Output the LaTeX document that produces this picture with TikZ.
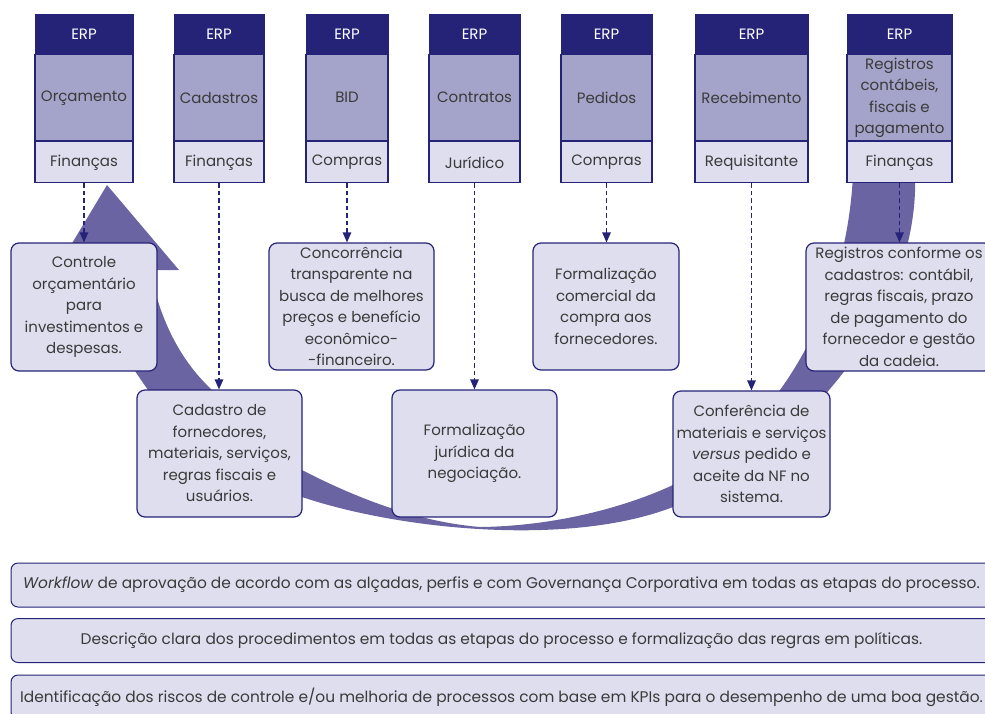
\documentclass[tikz,border=0pt]{standalone}
\usepackage{fontspec}
\setmainfont{Poppins}
\usepackage{xcolor}
\usepackage{tikz}
\usetikzlibrary{arrows.meta, positioning}
\definecolor{erpnavy}{RGB}{37, 35, 120}
\definecolor{modlilac}{RGB}{164, 163, 201}
\definecolor{palelilac}{RGB}{222, 222, 238}
\definecolor{cyclepurple}{RGB}{106, 100, 162}
\definecolor{textgray}{RGB}{58, 58, 58}
\tikzstyle{erphead} = [
    draw=erpnavy,
    fill=erpnavy,
    text=white,
    minimum height=40,
    inner sep=0pt
]
\tikzstyle{modbox} = [
    draw=erpnavy,
    line width=1.1,
    fill=modlilac,
    text=textgray,
    align=center,
    minimum height=86,
    inner sep=0pt
]
\tikzstyle{areabox} = [
    draw=erpnavy,
    line width=1.1,
    fill=palelilac,
    text=textgray,
    minimum height=41,
    inner sep=0pt
]
\tikzstyle{descbox} = [
    draw=erpnavy,
    line width=1.2,
    fill=palelilac,
    text=textgray,
    rounded corners=8,
    align=center,
    inner sep=1pt
]
\tikzstyle{barbox} = [
    draw=erpnavy,
    line width=1,
    fill=palelilac,
    text=textgray,
    rounded corners=7,
    minimum height=44,
    minimum width=981,
    font=\fontsize{15.4}{21.5}\selectfont
]
\tikzstyle{flow} = [
    line width=1.3,
    dash pattern=on 4.5pt off 3pt,
    -{Triangle[length=10pt, width=8.5pt]},
    color=erpnavy
]

\begin{document}
\begin{tikzpicture}[x=1pt, y=-1pt, font=\fontsize{15}{21.5}\selectfont]
        \useasboundingbox (0,0) rectangle (985,713);
        \clip (0,0) rectangle (985,713);

        % Cycle arrow behind the boxes
        \fill[cyclepurple] (150,270)
            .. controls (160,320) and (180,360) .. (212,390)
            .. controls (250,430) and (275,455) .. (302,470)
            .. controls (360,500) and (420,522) .. (480,527)
            .. controls (560,526) and (630,505) .. (673,485)
            .. controls (760,440) and (845,330) .. (853,175)
            -- (915,175)
            .. controls (920,320) and (790,458) .. (673,507)
            .. controls (570,547) and (400,530) .. (302,497)
            .. controls (240,470) and (180,435) .. (148,390)
            .. controls (125,357) and (100,320) .. (85,270)
            -- (56,270) -- (107,185) -- (179,270) -- cycle;

        % ERP modules
        \foreach \i/\cx/\w/\modname/\area in {
            1/84/98/Orçamento/Finanças,
            2/219/90/Cadastros/Finanças,
            3/347/82/BID/Compras,
            4/474.5/91/Contratos/Jurídico,
            5/606.5/91/Pedidos/Compras,
            6/751.5/113/Recebimento/Requisitante,
            7/899.5/105/{Registros\\contábeis,\\fiscais e\\pagamento}/Finanças} {
            \node[erphead, minimum width=\w] (erp\i) at (\cx, 34) {ERP};
            \node[modbox, minimum width=\w, below=0pt of erp\i] (mod\i) {\modname};
            \node[areabox, minimum width=\w, below=0pt of mod\i] (area\i) {\area};
        }

        % Process steps
        \node[descbox, minimum width=146, minimum height=128] (desc1) at (84,307)
            {Controle\\orçamentário\\para\\investimentos e\\despesas.};
        \node[descbox, minimum width=165, minimum height=127] (desc2) at (219.5,453.5)
            {Cadastro de\\fornecdores,\\materiais, serviços,\\regras fiscais e\\usuários.};
        \node[descbox, minimum width=165, minimum height=127] (desc3) at (351.5,306.5)
            {Concorrência\\transparente na\\busca de melhores\\preços e benefício\\econômico-\\-financeiro.};
        \node[descbox, minimum width=165, minimum height=127] (desc4) at (474.5,453.5)
            {Formalização\\jurídica da\\negociação.};
        \node[descbox, minimum width=146, minimum height=127] (desc5) at (606,306.5)
            {Formalização\\comercial da\\compra aos\\fornecedores.};
        \node[descbox, minimum width=157, minimum height=126] (desc6) at (751.5,454)
            {Conferência de\\materiais e serviços\\\textit{versus} pedido e\\aceite da NF no\\sistema.};
        \node[descbox, minimum width=186, minimum height=128] (desc7) at (899,307)
            {Registros conforme os\\cadastros: contábil,\\regras fiscais, prazo\\de pagamento do\\fornecedor e gestão\\da cadeia.};

        % Links from modules to steps
        \foreach \i in {1,...,7}
            \draw[flow] (area\i.south) -- (area\i.south |- desc\i.north);

        % Governance bars
        \node[barbox] (bar1) at (501.5,585)
            {\textit{Workflow} de aprovação de acordo com as alçadas, perfis e com Governança Corporativa em todas as etapas do processo.};
        \node[barbox] (bar2) at (501.5,640.5)
            {Descrição clara dos procedimentos em todas as etapas do processo e formalização das regras em políticas.};
        \node[barbox] (bar3) at (501.5,697)
            {Identificação dos riscos de controle e/ou melhoria de processos com base em KPIs para o desempenho de uma boa gestão.};
    \end{tikzpicture}
\end{document}
